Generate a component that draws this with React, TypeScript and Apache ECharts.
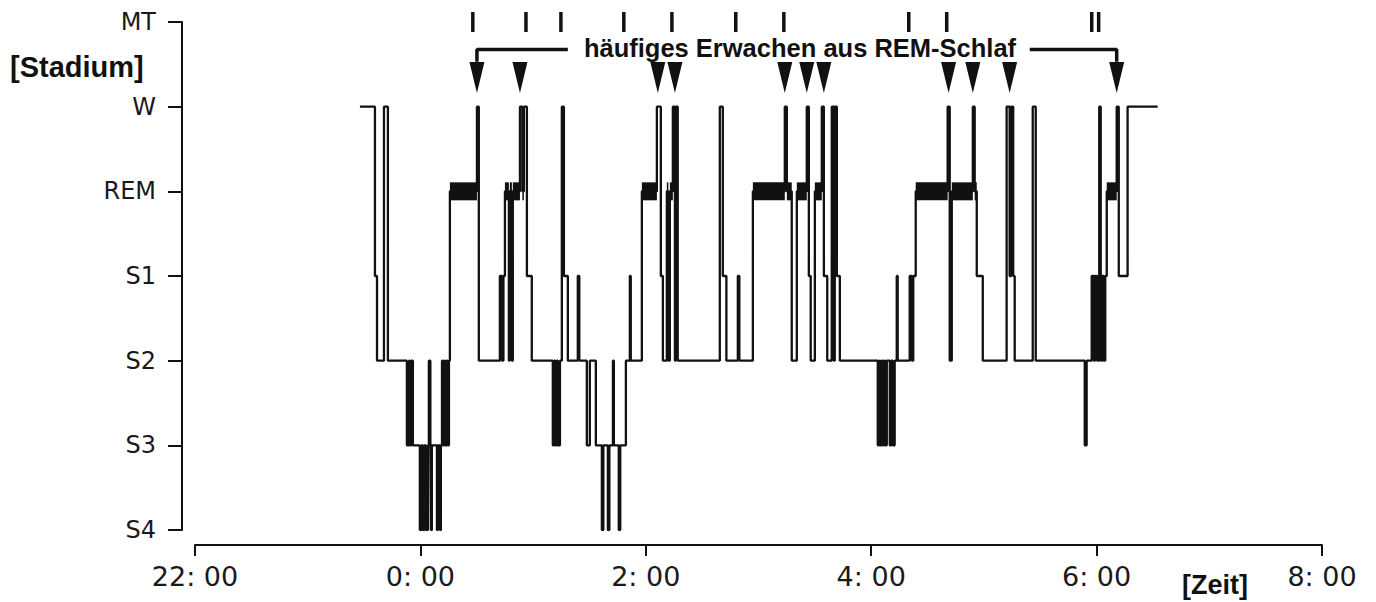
import React, { useEffect, useRef } from "react";
import * as echarts from "echarts";

// Stage codes: 0=S4, 1=S3, 2=S2, 3=S1, 4=REM, 5=W, 6=MT
const stageLabels = ["S4", "S3", "S2", "S1", "REM", "W", "MT"];
const timeTickLabels = ["22: 00", "0: 00", "2: 00", "4: 00", "6: 00", "8: 00"];

// Minutes after 22:00 at which each stage begins
const stageTimes = [
  87.8, 95.8, 96.9, 100.6, 102.7, 112.8, 113.9, 114.4, 115.2, 116.0,
  119.7, 120.5, 121.3, 122.1, 122.9, 124.0, 124.5, 125.3, 125.6, 126.1,
  128.8, 129.3, 130.4, 130.9, 131.5, 132.0, 132.8, 133.3, 134.1, 134.6,
  135.2, 135.7, 150.1, 151.1, 162.3, 163.4, 164.2, 165.0, 167.1, 167.6,
  168.7, 169.2, 173.0, 174.3, 175.1, 176.7, 179.3, 190.5, 191.3, 191.9,
  192.7, 193.2, 194.3, 195.3, 196.4, 198.5, 203.8, 204.6, 208.6, 210.2,
  213.4, 216.6, 217.4, 219.8, 220.6, 222.5, 223.0, 225.6, 226.4, 229.4,
  231.5, 232.0, 237.9, 245.9, 248.0, 249.1, 251.2, 252.0, 252.8, 254.4,
  255.5, 256.0, 257.0, 279.4, 281.0, 282.9, 289.0, 289.8, 297.0, 314.0,
  315.1, 317.7, 320.4, 325.7, 326.8, 327.8, 330.0, 333.7, 334.8, 336.6,
  339.0, 340.1, 340.6, 341.7, 343.3, 363.5, 364.3, 364.8, 365.6, 366.2,
  366.9, 367.5, 368.3, 369.9, 370.7, 371.5, 372.5, 373.6, 374.1, 380.5,
  381.6, 382.4, 383.7, 400.7, 401.8, 402.9, 414.1, 415.1, 416.2, 419.4,
  432.1, 433.7, 434.5, 435.6, 436.4, 446.0, 447.6, 473.7, 474.7, 477.4,
  478.5, 479.2, 480.3, 481.4, 482.2, 483.0, 483.8, 484.6, 485.4, 490.7,
  491.8, 496.5, 512.5,
];
const stageValues = [
  5, 3, 2, 5, 2, 1, 2, 1, 2, 1,
  0, 1, 0, 1, 0, 1, 2, 1, 0, 1,
  0, 1, 0, 1, 2, 1, 2, 1, 2, 1,
  2, 4, 5, 2, 3, 2, 3, 4, 2, 4,
  2, 4, 5, 4, 5, 3, 2, 1, 2, 1,
  2, 1, 2, 5, 3, 2, 3, 2, 1, 2,
  1, 0, 1, 0, 1, 2, 1, 0, 1, 2,
  3, 2, 4, 5, 3, 2, 4, 2, 4, 5,
  2, 5, 2, 5, 3, 2, 3, 2, 4, 5,
  4, 2, 4, 5, 3, 2, 4, 5, 3, 2,
  5, 2, 5, 3, 2, 1, 2, 1, 2, 1,
  2, 1, 2, 1, 2, 1, 2, 3, 2, 3,
  2, 3, 4, 5, 2, 4, 5, 4, 3, 2,
  5, 3, 5, 3, 2, 5, 2, 1, 2, 3,
  2, 3, 2, 5, 2, 3, 2, 3, 4, 5,
  3, 5, 5,
];

// Movement time (MT) events, minutes after 22:00
const mtTimes = [147.9, 176.2, 194.8, 228.3, 253.9, 287.9, 313.5, 380.0, 400.2, 477.4, 481.1];

// Awakenings out of REM sleep (arrows), minutes after 22:00
const awakeningTimes = [150.1, 173.0, 246.4, 255.5, 314.0, 325.7, 334.8, 401.2, 414.1, 433.7, 490.7];

const annotationText = "häufiges Erwachen aus REM-Schlaf";

const INK = "#111";
const ARROW_Y = 5.345;
const ARROW_TOP = 5.53;
const BRACKET_Y = 5.675;
const BRACKET_GAP_LEFT = 198.5;
const BRACKET_GAP_RIGHT = 444.4;

export default function App() {
  const ref = useRef<HTMLDivElement>(null);

  useEffect(() => {
    if (!ref.current) return;
    const chart = echarts.init(ref.current, undefined, { renderer: "svg" });

    const hypno = stageTimes.map((t, i) => [t, stageValues[i]]);
    const remIntervals: number[][] = [];
    for (let i = 0; i < stageTimes.length - 1; i++) {
      if (stageValues[i] === 4) remIntervals.push([stageTimes[i], stageTimes[i + 1]]);
    }
    const first = awakeningTimes[0];
    const last = awakeningTimes[awakeningTimes.length - 1];

    const option: any = {
      animation: false,
      backgroundColor: "#fff",
      grid: { left: 195, right: 54, top: 22, bottom: 72, containLabel: false },
      xAxis: {
        type: "value",
        min: 0,
        max: 600,
        interval: 120,
        offset: 15,
        axisLine: { show: true, onZero: false, lineStyle: { color: INK, width: 2 } },
        axisTick: { show: true, length: 11, lineStyle: { color: INK, width: 2 } },
        axisLabel: {
          margin: 18,
          fontSize: 27,
          fontFamily: "DejaVu Sans",
          color: "#1a1a1a",
          formatter: (v: number) => timeTickLabels[Math.round(v / 120)] ?? "",
        },
        splitLine: { show: false },
      },
      yAxis: {
        type: "value",
        min: 0,
        max: 6,
        interval: 1,
        offset: 13,
        axisLine: { show: true, onZero: false, lineStyle: { color: INK, width: 2 } },
        axisTick: { show: true, length: 14, lineStyle: { color: INK, width: 2 } },
        axisLabel: {
          margin: 26,
          fontSize: 24,
          fontFamily: "DejaVu Sans",
          color: "#1a1a1a",
          formatter: (v: number) => stageLabels[Math.round(v)] ?? "",
        },
        splitLine: { show: false },
      },
      graphic: [
        {
          type: "text",
          x: 10,
          y: 67,
          style: {
            text: "[Stadium]",
            font: 'bold 29px "Liberation Sans", Arial, sans-serif',
            fill: INK,
            textAlign: "left",
            textVerticalAlign: "middle",
          },
        },
        {
          type: "text",
          x: 1182,
          y: 585,
          style: {
            text: "[Zeit]",
            font: 'bold 27px "Liberation Sans", Arial, sans-serif',
            fill: INK,
            textAlign: "left",
            textVerticalAlign: "middle",
          },
        },
        {
          type: "text",
          x: 800,
          y: 48,
          style: {
            text: annotationText,
            font: 'bold 25.5px "Liberation Sans", Arial, sans-serif',
            fill: INK,
            textAlign: "center",
            textVerticalAlign: "middle",
          },
        },
      ],
      series: [
        {
          type: "custom",
          name: "REM",
          renderItem: (_p: any, api: any) => {
            const s = api.coord([api.value(0), 4]);
            const e = api.coord([api.value(1), 4]);
            return {
              type: "rect",
              shape: { x: s[0], y: s[1] - 9, width: e[0] - s[0], height: 18 },
              style: { fill: INK },
            };
          },
          encode: { x: [0, 1] },
          data: remIntervals,
          z: 2,
        },
        {
          type: "line",
          name: "Hypnogramm",
          step: "end",
          symbol: "none",
          data: hypno,
          lineStyle: { color: INK, width: 2.3 },
          z: 3,
        },
        {
          type: "scatter",
          name: "MT",
          symbol: "rect",
          symbolSize: [3.5, 20],
          itemStyle: { color: INK, opacity: 1 },
          data: mtTimes.map((t) => [t, 6]),
          z: 3,
        },
        {
          type: "scatter",
          name: "Erwachen",
          symbol: "path://M0,0L2,0L1,4Z",
          symbolSize: [15, 31],
          itemStyle: { color: INK, opacity: 1 },
          data: awakeningTimes.map((t) => [t, ARROW_Y]),
          z: 4,
        },
        {
          type: "line",
          name: "bracketL",
          symbol: "none",
          data: [
            [first, ARROW_TOP],
            [first, BRACKET_Y],
            [BRACKET_GAP_LEFT, BRACKET_Y],
          ],
          lineStyle: { color: INK, width: 3.5 },
          z: 4,
        },
        {
          type: "line",
          name: "bracketR",
          symbol: "none",
          data: [
            [BRACKET_GAP_RIGHT, BRACKET_Y],
            [last, BRACKET_Y],
            [last, ARROW_TOP],
          ],
          lineStyle: { color: INK, width: 3.5 },
          z: 4,
        },
      ],
    };

    chart.setOption(option);
    return () => chart.dispose();
  }, []);

  return (
    <div
      ref={ref}
      style={{ position: "fixed", left: 0, top: 0, width: 1376, height: 602, background: "#fff" }}
    />
  );
}
